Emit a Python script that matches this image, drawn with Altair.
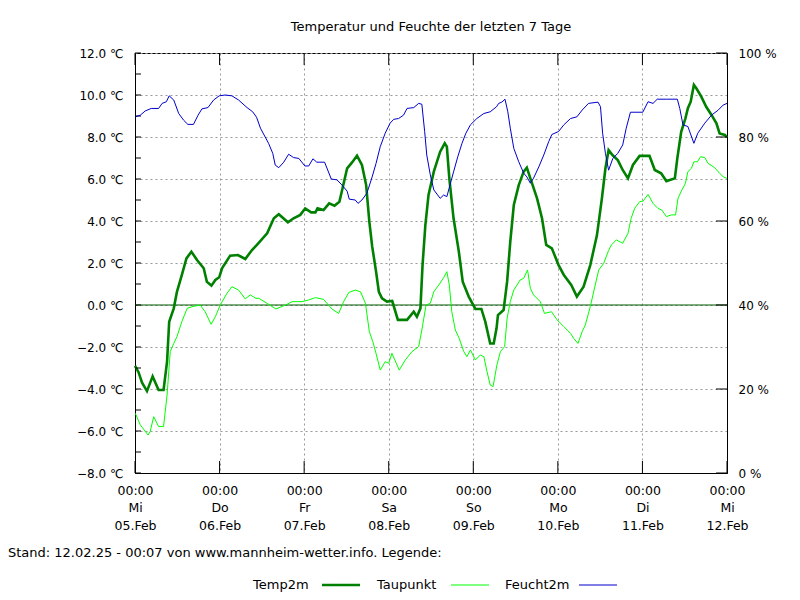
import json
import altair as alt
import pandas as pd

# ---------------- texts ----------------
TITLE = "Temperatur und Feuchte der letzten 7 Tage"
FOOTER = "Stand: 12.02.25 - 00:07 von www.mannheim-wetter.info. Legende:"
SERIES = ["Temp2m", "Taupunkt", "Feucht2m"]
COLORS = ["#008000", "#00ff00", "#0000cc"]

# ---------------- axis ticks / labels ----------------
day_hours = [0, 24, 48, 72, 96, 120, 144, 168]
day_times = ["00:00"] * 8
day_names = ["Mi", "Do", "Fr", "Sa", "So", "Mo", "Di", "Mi"]
day_dates = ["05.Feb", "06.Feb", "07.Feb", "08.Feb", "09.Feb", "10.Feb", "11.Feb", "12.Feb"]
temp_ticks = [-8, -6, -4, -2, 0, 2, 4, 6, 8, 10, 12]
temp_minor = [-8, -7, -6, -5, -4, -3, -2, -1, 0, 1, 2, 3, 4, 5, 6, 7, 8, 9, 10, 11, 12]
hum_ticks = [0, 20, 40, 60, 80, 100]

# ---------------- data (hours since 05.Feb 00:00) ----------------
temp_hours = [0, 1.0, 2, 3.4, 5.0, 6.7, 8.1, 9.1, 9.7, 11, 11.9, 13.3, 14.6, 16, 17.6, 19.5, 20.4, 21.7,
              22.8, 23.9, 24.7, 27, 29.2, 31.3, 33.2, 34.6, 37.5, 39.4, 40.8, 43.4, 45, 46.9, 48.3, 50,
              51.2, 51.8, 53.5, 55.1, 56.6, 58, 58.9, 60.2, 61.6, 63, 64.4, 65.6, 66.5, 67.3, 68.4, 69.2,
              70.1, 71.5, 73, 74.6, 77.2, 79.1, 80, 81, 81.6, 82.4, 83.3, 84.8, 86.6, 87.9, 88.5, 89.2,
              90.4, 91.9, 93, 94.7, 96.6, 98.3, 99.4, 100.8, 101.8, 102.6, 103, 104.6, 105.6, 106.5,
              107.5, 108.9, 110.3, 111.2, 112.2, 114.1, 115.5, 116.7, 118.3, 120.2, 121.7, 123.8, 125.4,
              127.3, 129.2, 131.1, 132.5, 133.5, 134.4, 135.5, 137, 138.4, 139.9, 141.3, 143.2, 146,
              147.5, 149.3, 150.8, 153.2, 153.9, 155, 156.2, 156.9, 157.7, 158.6, 159.3, 160.7, 162.1,
              163.6, 165, 165.9, 167.4, 168]
temp_values = [-2.9, -3.2, -3.7, -4.1, -3.4, -4.05, -4.05, -2.7, -0.8, -0.16, 0.63, 1.43, 2.22, 2.54, 2.14,
               1.75, 1.11, 0.92, 1.19, 1.32, 1.75, 2.35, 2.38, 2.19, 2.62, 2.86, 3.41, 4.13, 4.32, 3.94,
               4.13, 4.29, 4.6, 4.41, 4.41, 4.6, 4.52, 4.84, 4.73, 4.92, 5.56, 6.51, 6.79, 7.11, 6.67, 5.71,
               3.97, 2.8, 1.6, 0.63, 0.32, 0.16, 0.19, -0.71, -0.71, -0.32, -0.56, -0.16, 1.9, 3.81, 5.24,
               6.35, 7.3, 7.7, 7.54, 6.03, 4.13, 2.54, 1.11, 0.4, -0.19, -0.19, -0.79, -1.83, -1.83, -1.11,
               -0.48, -0.24, 1.11, 3.02, 4.76, 5.71, 6.35, 6.54, 6.03, 5.08, 4.13, 2.86, 2.7, 1.9, 1.43,
               0.95, 0.4, 0.87, 1.9, 3.33, 5.08, 6.51, 7.38, 7.14, 6.9, 6.43, 6.03, 6.67, 7.1, 7.1, 6.43,
               6.27, 5.9, 6.03, 6.98, 8.25, 8.89, 9.37, 9.68, 10.48, 10.32, 9.92, 9.44, 9.05, 8.65, 8.17,
               8.1, 7.98]

dew_hours = [0.1, 1.5, 3.7, 4.3, 5.3, 6.7, 8.1, 9.1, 10, 11, 11.9, 13.3, 14.8, 16.2, 18.5, 19.9, 21.6, 22.8,
             24.2, 26.1, 27.5, 29.4, 31.3, 32.7, 34.3, 35.1, 37.5, 40, 42.7, 44.6, 47.4, 49.3, 51.2, 53.5,
             55.9, 57.8, 59.2, 60.7, 62.5, 64, 65.4, 66.5, 67.5, 68.4, 69.6, 71, 72, 72.9, 75, 76.7, 78.6,
             80.5, 81.4, 82.6, 83.8, 84.8, 86.2, 87.6, 88.5, 89.2, 89.9, 90.9, 92, 93.3, 94.2, 95.2, 96.6,
             98, 99, 99.9, 100.8, 101.6, 102.7, 103.7, 104.9, 105.6, 106.5, 107.5, 108.4, 109.3, 110.3,
             111.4, 112.2, 113.1, 115, 116.2, 118.2, 119.8, 121.7, 123.6, 124.5, 125.7, 126.9, 127.8,
             129.2, 130.6, 131.6, 133, 134.4, 135.2, 136.6, 138.4, 139.9, 140.8, 141.8, 143.2, 144.2,
             145.6, 147, 148.4, 149.5, 150.8, 152.2, 153.4, 154.1, 155.2, 156.2, 156.9, 157.9, 158.6,
             159.6, 160.5, 161.7, 162.6, 164.5, 165.9, 166.9, 168]
dew_values = [-5.16, -5.71, -6.19, -6.03, -5.32, -5.79, -5.79, -4.29, -2.22, -1.83, -1.51, -0.79, -0.16,
              -0.08, 0.0, -0.32, -0.92, -0.56, 0.0, 0.56, 0.87, 0.71, 0.29, 0.48, 0.32, 0.32, 0.08, -0.19,
              0.0, 0.16, 0.16, 0.24, 0.35, 0.27, -0.19, -0.4, 0.16, 0.6, 0.71, 0.63, 0.08, -1.27, -1.75,
              -2.3, -3.1, -2.7, -2.78, -2.3, -3.1, -2.62, -2.22, -1.98, -1.19, 0.0, 0.08, 0.63, 0.95, 1.3,
              1.59, 0.95, -0.32, -1.19, -1.59, -2.22, -2.46, -2.14, -2.62, -2.38, -2.46, -3.17, -3.81,
              -3.89, -2.86, -2.22, -1.98, -0.63, 0.16, 0.71, 0.95, 1.19, 1.27, 1.67, 0.79, 0.48, 0.16,
              -0.4, -0.32, -0.71, -1.03, -1.35, -1.59, -1.83, -1.27, -0.95, -0.08, 0.95, 1.67, 1.98, 2.6,
              2.86, 3.1, 2.94, 3.41, 4.13, 4.6, 4.92, 4.95, 5.27, 4.84, 4.6, 4.52, 4.21, 4.29, 4.29, 5.08,
              5.48, 5.79, 6.35, 6.51, 6.82, 6.82, 7.06, 7.02, 6.75, 6.54, 6.27, 6.11, 6.03]

hum_hours = [0.1, 1.5, 2.9, 4.6, 6.7, 7.7, 8.9, 9.7, 11, 12.4, 13.8, 15, 16.6, 17.9, 19, 20.7, 22.3, 23.9,
             25.6, 27.5, 29.4, 31.8, 33.4, 34.5, 35.6, 37.9, 39.1, 39.8, 40.8, 42.2, 43.6, 45, 46.5, 48.2,
             49.3, 50.5, 51.6, 53.8, 55.7, 57.3, 58.7, 60.2, 60.8, 62.5, 63.3, 64.4, 65.8, 67.3, 68.4,
             69.6, 71, 72.4, 73.4, 74.8, 76.2, 77.2, 79.1, 80.5, 81.4, 82.2, 82.8, 83.8, 84.8, 86.6, 87.6,
             88.5, 89.4, 90.4, 91.6, 92.8, 93.9, 95.2, 97, 99, 100.8, 102.6, 103.2, 104.1, 105, 105.8,
             106.5, 107.5, 108.9, 110.3, 111.2, 112.2, 113.1, 114.6, 116, 117.4, 118.3, 120.2, 121.7,
             123.6, 125.4, 126.9, 128.7, 131.4, 132.1, 132.7, 133.5, 134.4, 135.6, 137, 138.4, 139.4,
             140.6, 144.1, 145.6, 147, 148.2, 150.8, 153.9, 154.6, 155.5, 156.9, 158.6, 159.7, 161.7,
             163.6, 165.5, 166.9, 168]
hum_values = [84.8, 85.2, 86.2, 86.8, 86.8, 88.0, 88.4, 89.8, 88.8, 85.6, 84.0, 83.0, 83.0, 85.2, 86.7, 87.0,
              88.8, 89.8, 90.0, 89.8, 88.8, 87.0, 86.0, 84.7, 82.1, 78.5, 76.1, 73.3, 72.7, 74.0, 75.9,
              75.1, 74.9, 73.1, 73.1, 74.8, 74.0, 74.0, 70.0, 69.8, 68.6, 67.1, 65.2, 65.0, 64.2, 65.0,
              66.6, 70.5, 73.7, 77.7, 80.9, 83.3, 84.2, 84.4, 85.2, 86.8, 87.0, 88.0, 87.8, 81.3, 75.7,
              71.0, 67.4, 65.4, 66.2, 65.8, 68.6, 71.7, 75.3, 78.5, 80.9, 82.9, 84.4, 85.6, 86.0, 87.2,
              88.0, 88.3, 89.0, 86.0, 82.1, 77.3, 74.1, 71.4, 70.5, 69.0, 70.2, 72.9, 75.7, 78.9, 80.6,
              81.3, 82.9, 84.4, 84.8, 86.4, 88.0, 88.3, 87.2, 80.9, 76.1, 72.1, 74.9, 76.1, 78.1, 82.1,
              85.9, 85.9, 88.4, 88.0, 89.0, 89.0, 89.0, 86.8, 82.9, 82.5, 78.5, 80.9, 83.3, 85.2, 86.4,
              87.6, 88.0]

# ---------------- layout ----------------
W, H = 592, 420
FONT = "DejaVu Sans"
FS = 12
FS_TEXT = 13
GRID = "#999999"

temp_df = pd.DataFrame({"h": temp_hours, "v": temp_values})
dew_df = pd.DataFrame({"h": dew_hours, "v": dew_values})
hum_df = pd.DataFrame({"h": hum_hours, "v": hum_values})

x_scale = alt.Scale(domain=[0, 168], nice=False, zero=False)
yt_scale = alt.Scale(domain=[-8, 12], nice=False, zero=False)
yh_scale = alt.Scale(domain=[0, 100], nice=False, zero=False)

x_label_expr = (
    "[" + json.dumps(day_times) + "[round(datum.value/24)], "
    + json.dumps(day_names) + "[round(datum.value/24)], "
    + json.dumps(day_dates) + "[round(datum.value/24)]]"
)

x_axis = alt.Axis(
    values=day_hours, labelExpr=x_label_expr, title=None, grid=True, gridDash=[2, 3],
    gridColor=GRID, gridWidth=1, ticks=False, domain=True, domainColor="black", domainWidth=1,
    labelFont=FONT, labelFontSize=12.5, labelColor="black", labelPadding=11, labelLineHeight=17.5,
    labelOverlap=False, labelFlush=False, labelBound=False,
)
yt_axis = alt.Axis(
    values=temp_ticks, labelExpr="format(datum.value, '.1f') + ' \u2103'", title=None, grid=True,
    gridDash=[2, 3], gridColor=GRID, gridWidth=1, ticks=False, domain=True, domainColor="black",
    labelFont=FONT, labelFontSize=FS, labelColor="black", labelPadding=12, labelOverlap=False,
    labelFlush=False, labelBound=False,
)
yh_axis = alt.Axis(
    orient="right", values=hum_ticks, labelExpr="datum.value + ' %'", title=None, grid=False,
    ticks=False, domain=True, domainColor="black", labelFont=FONT, labelFontSize=FS,
    labelColor="black", labelPadding=11, labelOverlap=False, labelFlush=False, labelBound=False,
)

X = alt.X("h:Q", scale=x_scale, axis=x_axis)

temp_line = alt.Chart(temp_df).mark_line(color=COLORS[0], strokeWidth=2.6).encode(
    x=X, y=alt.Y("v:Q", scale=yt_scale, axis=yt_axis))
dew_line = alt.Chart(dew_df).mark_line(color=COLORS[1], strokeWidth=1).encode(
    x=X, y=alt.Y("v:Q", scale=yt_scale, axis=yt_axis))
zero_rule = alt.Chart(pd.DataFrame({"z": [0]})).mark_rule(color="#005a00", strokeWidth=1.2).encode(
    y=alt.Y("z:Q", scale=yt_scale, axis=yt_axis))
left_ticks = alt.Chart(pd.DataFrame({"t": temp_minor})).mark_rule(color="black").encode(
    y=alt.Y("t:Q", scale=yt_scale, axis=yt_axis), x=alt.value(0), x2=alt.value(6))
day_df = pd.DataFrame({"d": day_hours})
top_ticks = alt.Chart(day_df).mark_rule(color="black").encode(
    x=alt.X("d:Q", scale=x_scale, axis=x_axis), y=alt.value(0), y2=alt.value(12))
bottom_ticks = alt.Chart(day_df).mark_rule(color="black").encode(
    x=alt.X("d:Q", scale=x_scale, axis=x_axis), y=alt.value(H - 12), y2=alt.value(H))

footer = alt.Chart(pd.DataFrame({"t": [FOOTER]})).mark_text(
    align="left", baseline="middle", font=FONT, fontSize=FS_TEXT, color="black").encode(
    text="t:N", x=alt.value(-127), y=alt.value(500))

# custom legend (label first, then line sample), positions in pixels
leg_text_x = [118, 242, 370]
leg_line_x = [187, 316, 444]
leg_line_len = 38
leg_y = 532
legend_layers = []
for name, col, tx, lx in zip(SERIES, COLORS, leg_text_x, leg_line_x):
    legend_layers.append(
        alt.Chart(pd.DataFrame({"t": [name]})).mark_text(
            align="left", baseline="middle", font=FONT, fontSize=FS_TEXT, color="black").encode(
            text="t:N", x=alt.value(tx), y=alt.value(leg_y)))
    legend_layers.append(
        alt.Chart(pd.DataFrame({"t": [name]})).mark_rule(
            color=col, strokeWidth=2.6 if name == "Temp2m" else 1.2).encode(
            x=alt.value(lx), x2=alt.value(lx + leg_line_len), y=alt.value(leg_y)))

temp_group = alt.layer(zero_rule, dew_line, temp_line, left_ticks, top_ticks, bottom_ticks,
                       footer, *legend_layers)

hum_line = alt.Chart(hum_df).mark_line(color=COLORS[2], strokeWidth=1).encode(
    x=X, y=alt.Y("v:Q", scale=yh_scale, axis=yh_axis))
right_ticks = alt.Chart(pd.DataFrame({"t": hum_ticks})).mark_rule(color="black").encode(
    y=alt.Y("t:Q", scale=yh_scale, axis=yh_axis), x=alt.value(W - 11), x2=alt.value(W))
hum_group = alt.layer(hum_line, right_ticks)

chart = alt.layer(temp_group, hum_group).resolve_scale(y="independent").properties(
    width=W, height=H,
    title=alt.TitleParams(TITLE, font=FONT, fontSize=13, fontWeight="normal", color="black",
                          anchor="middle", offset=13),
    autosize=alt.AutoSizeParams(type="none"),
    padding={"left": 135, "top": 53, "right": 73, "bottom": 127},
    background="white",
).configure_view(stroke="black", strokeWidth=1)

chart.save("out.html", embed_options={"renderer": "svg", "actions": False})
